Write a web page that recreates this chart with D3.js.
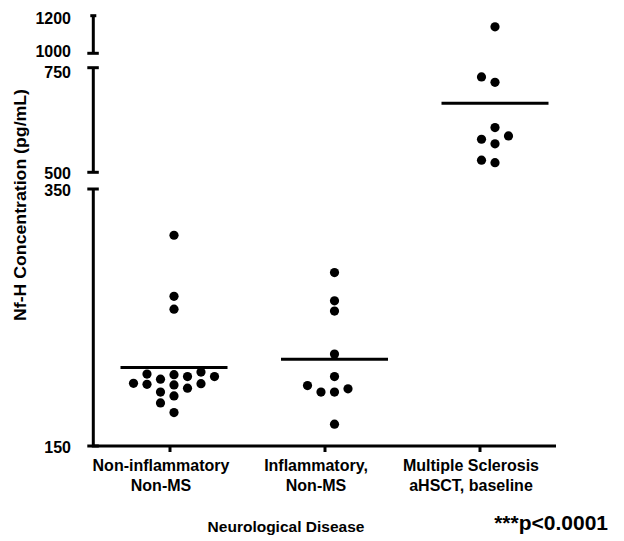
<!DOCTYPE html>
<html>
<head>
<meta charset="utf-8">
<script src="https://cdn.jsdelivr.net/npm/d3@7"></script>
<style>
  body { margin: 0; background: #fff; }
  svg text { font-family: "Liberation Sans", Arial, Helvetica, sans-serif; font-weight: bold; fill: #000; }
</style>
</head>
<body>
<svg id="chart" width="624" height="541"></svg>
<script>
// groups and values (pg/mL)
var categories = ['Non-inflammatory Non-MS', 'Inflammatory, Non-MS', 'Multiple Sclerosis aHSCT, baseline'];
var categoryLines = [['Non-inflammatory', 'Non-MS'], ['Inflammatory,', 'Non-MS'], ['Multiple Sclerosis', 'aHSCT, baseline']];
var nonInflammatory = [314, 266.5, 256.5, 206, 204, 202, 204, 205.5, 207.5, 197.5, 198, 198.5, 192, 189, 195, 198.8, 183.5, 176];
var inflammatory = [285, 263, 255, 221.5, 204, 197, 192, 192, 194.5, 167];
var msBaseline = [1141, 728, 715, 607, 587, 579, 568, 523, 529];
var groupMeans = [211, 217.5, 665];
var yBreaks = [[150, 350], [500, 750], [1000, 1200]];
var yTicks = [150, 350, 500, 750, 1000, 1200];
var yTitle = 'Nf-H Concentration (pg/mL)';
var xTitle = 'Neurological Disease';
var pLabel = '***p<0.0001';

var groups = [nonInflammatory, inflammatory, msBaseline];

var svg = d3.select('#chart'),
    axisX = 93.3, axisY = 446, axisEnd = 556,
    dotR = 4.6, slotStep = 13.5, minGap = 9.8;

// broken y axis: one linear scale per segment
var segRanges = [[446, 189], [172.3, 67.7], [53.3, 15.7]];
var yScales = yBreaks.map(function(d, i) {
  return d3.scaleLinear().domain(d).range(segRanges[i]);
});
function y(v) {
  for (var i = yBreaks.length - 1; i >= 0; i--) {
    if (v >= yBreaks[i][0]) return yScales[i](v);
  }
  return yScales[0](v);
}

// data columns sit a bit right of the axis ticks in the original figure
var x = d3.scalePoint().domain(categories).range([174, 495]);
var xTick = d3.scalePoint().domain(categories).range([170, 480]);

// prism-like column scatter: stack close values side by side
function swarm(values) {
  var order = d3.range(values.length).sort(function(a, b) { return d3.ascending(values[a], values[b]); }),
      placed = [], slots = [];
  order.forEach(function(i) {
    var py = y(values[i]);
    for (var k = 0; ; k++) {
      var s = k === 0 ? 0 : (k % 2 ? -(k + 1) / 2 : k / 2);
      var hit = placed.some(function(p) { return p.s === s && Math.abs(p.y - py) < minGap; });
      if (!hit) { placed.push({s: s, y: py}); slots[i] = s; break; }
    }
  });
  return slots;
}

// axes
var axes = svg.append('g').attr('stroke', '#000').attr('stroke-width', 3).attr('fill', 'none');
axes.append('path')
  .attr('d', 'M' + axisX + ',' + y(yBreaks[0][1]) + 'V' + axisY + 'H' + axisEnd)
  .attr('stroke-linejoin', 'miter');
yBreaks.slice(1).forEach(function(b) {
  axes.append('line').attr('x1', axisX).attr('x2', axisX).attr('y1', y(b[0])).attr('y2', y(b[1]));
});
yTicks.forEach(function(t) {
  var left = t === 1200 ? 3 : 6, right = t === 1200 ? 3 : 5.5;
  axes.append('line')
    .attr('x1', axisX - left).attr('x2', axisX + right)
    .attr('y1', y(t)).attr('y2', y(t));
});
categories.forEach(function(c) {
  axes.append('line').attr('x1', xTick(c)).attr('x2', xTick(c)).attr('y1', axisY).attr('y2', axisY + 6);
});

// y tick labels
var nudge = {750: 4.5, 1200: 2.3, 1000: -1.6};
svg.append('g').selectAll('text').data(yTicks).enter().append('text')
  .attr('x', 71)
  .attr('y', function(d) { return y(d) + (nudge[d] !== undefined ? nudge[d] : 1); })
  .attr('dy', '0.36em')
  .attr('text-anchor', 'end')
  .attr('font-size', 16)
  .text(function(d) { return d; });

// category labels
categories.forEach(function(c, i) {
  var t = svg.append('text').attr('text-anchor', 'middle').attr('font-size', 16);
  categoryLines[i].forEach(function(line, j) {
    t.append('tspan').attr('x', xTick(c) - 9).attr('y', 471 + j * 20).text(line);
  });
});

// titles
svg.append('text')
  .attr('transform', 'translate(26,205) rotate(-90)')
  .attr('text-anchor', 'middle')
  .attr('font-size', 16.5)
  .attr('textLength', 232)
  .attr('lengthAdjust', 'spacingAndGlyphs')
  .text(yTitle);
svg.append('text')
  .attr('x', 286).attr('y', 532)
  .attr('text-anchor', 'middle')
  .attr('font-size', 15.5)
  .text(xTitle);
svg.append('text')
  .attr('x', 608).attr('y', 530)
  .attr('text-anchor', 'end')
  .attr('font-size', 21)
  .text(pLabel);

// mean lines
svg.append('g').selectAll('line').data(groupMeans).enter().append('line')
  .attr('x1', function(d, i) { return x(categories[i]) - 53.5; })
  .attr('x2', function(d, i) { return x(categories[i]) + 53.5; })
  .attr('y1', function(d) { return y(d); })
  .attr('y2', function(d) { return y(d); })
  .attr('stroke', '#000').attr('stroke-width', 3);

// dots
groups.forEach(function(vals, gi) {
  var slots = swarm(vals), cx = x(categories[gi]);
  svg.append('g').selectAll('circle').data(vals).enter().append('circle')
    .attr('cx', function(d, i) { return cx + slots[i] * slotStep; })
    .attr('cy', function(d) { return y(d); })
    .attr('r', dotR)
    .attr('fill', '#000');
});
</script>
</body>
</html>
